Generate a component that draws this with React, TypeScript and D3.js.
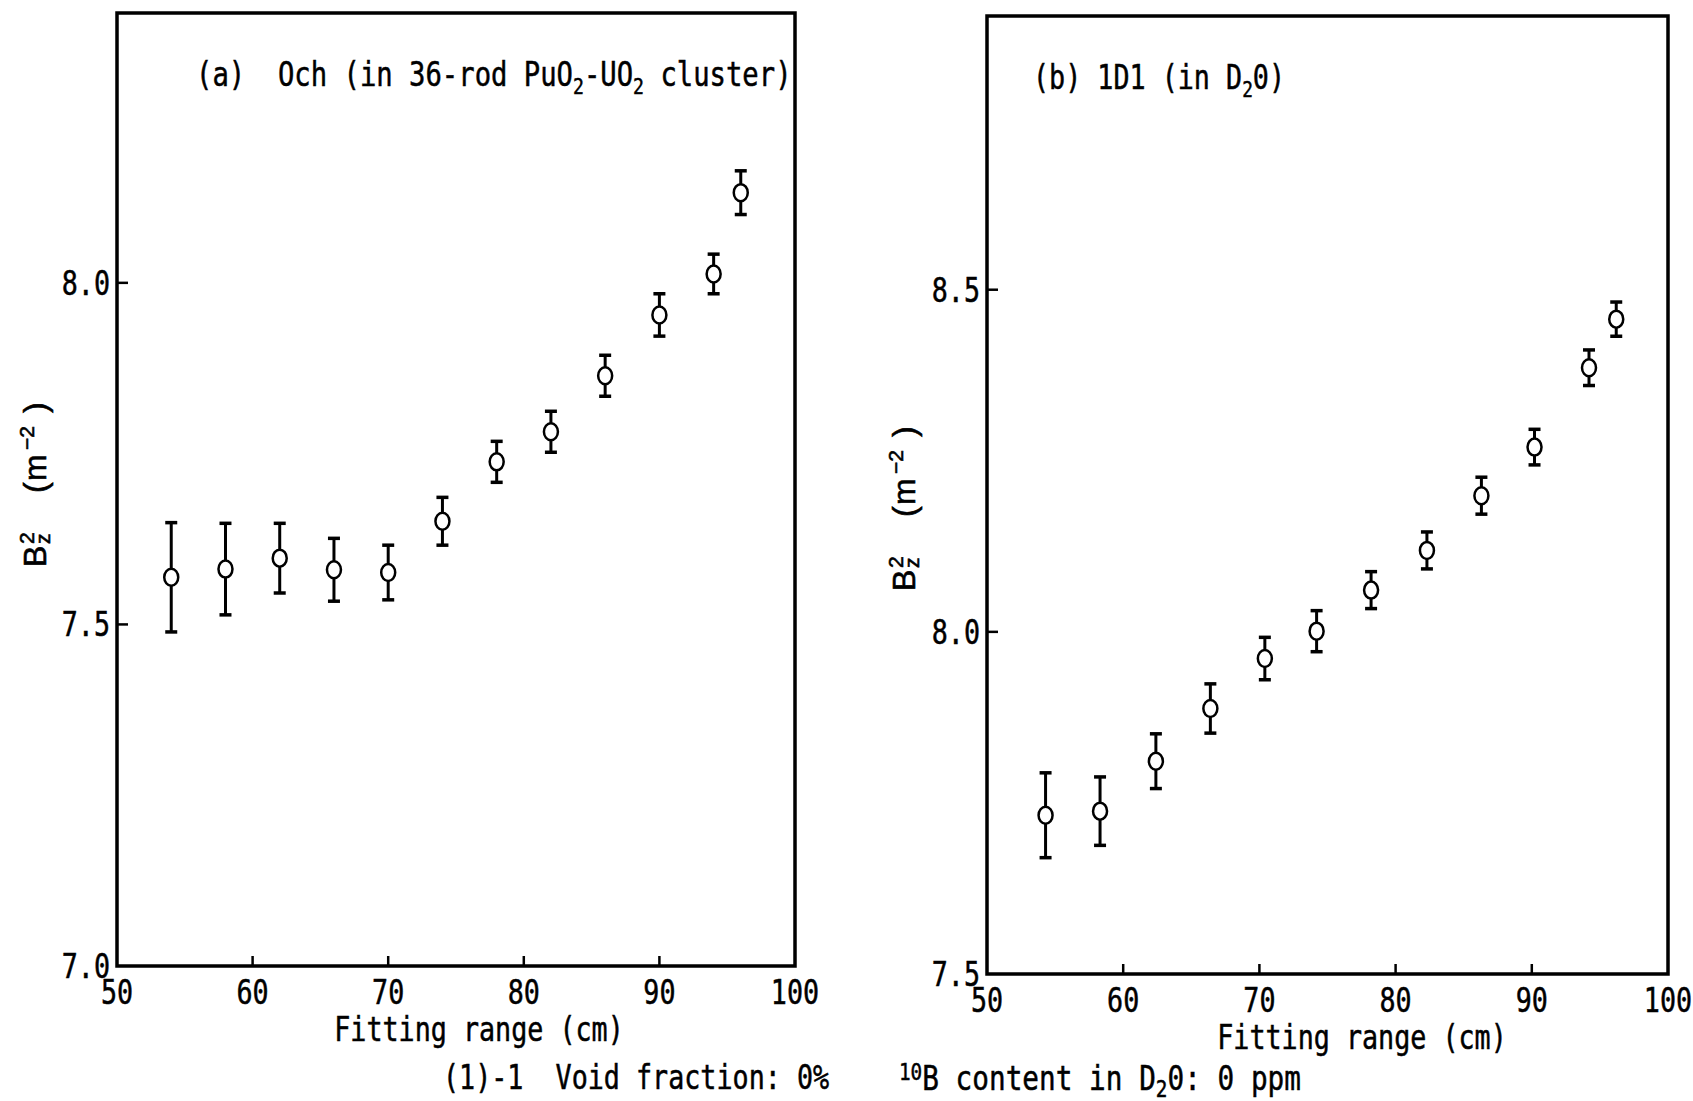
import React from 'react';
import * as d3 from 'd3';

// (a) 0ch in 36-rod PuO2-UO2 cluster
const fitRangeA = [54, 58, 62, 66, 70, 74, 78, 82, 86, 90, 94, 96];
const bz2A = [7.569, 7.581, 7.597, 7.58, 7.576, 7.651, 7.738, 7.782, 7.864, 7.953, 8.013, 8.132];
const errA = [0.08, 0.067, 0.051, 0.046, 0.04, 0.035, 0.03, 0.03, 0.03, 0.031, 0.029, 0.032];

// (b) 1D1 in D2O
const fitRangeB = [54.3, 58.3, 62.4, 66.4, 70.4, 74.2, 78.2, 82.3, 86.3, 90.2, 94.2, 96.2];
const bz2B = [7.732, 7.738, 7.811, 7.888, 7.961, 8.001, 8.061, 8.119, 8.199, 8.27, 8.386, 8.457];
const errB = [0.062, 0.05, 0.04, 0.036, 0.031, 0.03, 0.027, 0.027, 0.027, 0.026, 0.026, 0.025];

const xTicks = [50, 60, 70, 80, 90, 100];
const yTicksA = [7.0, 7.5, 8.0];
const yTicksB = [7.5, 8.0, 8.5];

const MONO = 'DejaVu Sans Mono';

const T = ({ x, y, anchor = 'start', size = 33, sx = 0.81, children }) => (
  <text
    transform={`translate(${x},${y}) scale(${sx},1)`}
    textAnchor={anchor}
    fontFamily={MONO}
    fontSize={size}
    fill="#000"
    stroke="#000"
    strokeWidth={0.5}
    style={{ whiteSpace: 'pre' }}
  >
    {children}
  </text>
);

// B_z^2 (m^-2), rotated; local x runs up the page
const YLabel = ({ cx, cy }) => (
  <g transform={`translate(${cx},${cy}) rotate(-90)`} fontFamily="Liberation Sans" fill="#000" stroke="#000" strokeWidth={0.6}>
    <text x={-84} y={10} fontSize={32}>B</text>
    <text x={-61} y={-2} fontSize={21}>2</text>
    <text x={-61} y={14} fontSize={21}>z</text>
    <text x={-10} y={10} fontSize={32}>(</text>
    <text x={2} y={10} fontSize={32}>m</text>
    <text x={33} y={-2} fontSize={21}>−2</text>
    <text x={70} y={10} fontSize={32}>)</text>
  </g>
);

const Panel = ({ left, right, top, bottom, yDomain, yTicks, xs, ys, errs, xLabelX, yLabelX, yLabelY }) => {
  const x = d3.scaleLinear().domain([50, 100]).range([left, right]);
  const y = d3.scaleLinear().domain(yDomain).range([bottom, top]);
  const inner = (v, arr) => v !== arr[0] && v !== arr[arr.length - 1];

  return (
    <g>
      <rect x={left} y={top} width={right - left} height={bottom - top} fill="none" stroke="#000" strokeWidth={3.5} />

      {xTicks.filter(v => inner(v, xTicks)).map(v => (
        <line key={'xt' + v} x1={x(v)} x2={x(v)} y1={bottom} y2={bottom - 10} stroke="#000" strokeWidth={2.5} />
      ))}
      {xTicks.map(v => (
        <T key={'xl' + v} x={x(v)} y={bottom + 38} anchor="middle">{String(v)}</T>
      ))}

      {yTicks.filter(v => v !== yTicks[0]).map(v => (
        <line key={'yt' + v} x1={left} x2={left + 11} y1={y(v)} y2={y(v)} stroke="#000" strokeWidth={2.5} />
      ))}
      {yTicks.map(v => (
        <T key={'yl' + v} x={left - 7} y={y(v) + 12} anchor="end">{v.toFixed(1)}</T>
      ))}

      {xs.map((xv, i) => {
        const cx = x(xv);
        const yTop = y(ys[i] + errs[i]);
        const yBot = y(ys[i] - errs[i]);
        const cy = y(ys[i]);
        return (
          <g key={'p' + i} stroke="#000">
            <line x1={cx} x2={cx} y1={yTop} y2={cy - 8} strokeWidth={3} />
            <line x1={cx} x2={cx} y1={cy + 8} y2={yBot} strokeWidth={3} />
            <line x1={cx - 6} x2={cx + 6} y1={yTop} y2={yTop} strokeWidth={3.5} />
            <line x1={cx - 6} x2={cx + 6} y1={yBot} y2={yBot} strokeWidth={3.5} />
            <ellipse cx={cx} cy={cy} rx={7} ry={8.5} fill="#fff" strokeWidth={2.5} />
          </g>
        );
      })}

      <T x={xLabelX} y={bottom + 75} anchor="middle">Fitting range (cm)</T>
      <YLabel cx={yLabelX} cy={yLabelY} />
    </g>
  );
};

export default function App() {
  return (
    <svg width={1693} height={1101} style={{ position: 'absolute', left: 0, top: 0, background: '#fff' }}>
      <rect width={1693} height={1101} fill="#fff" />

      <Panel
        left={117} right={795} top={13} bottom={966}
        yDomain={[7.0, 8.395]} yTicks={yTicksA}
        xs={fitRangeA} ys={bz2A} errs={errA}
        xLabelX={479} yLabelX={36} yLabelY={483}
      />
      <T x={196} y={86} sx={0.825}>
        {'(a)  Och (in 36-rod PuO'}
        <tspan fontSize={22} dy={8}>2</tspan>
        <tspan dy={-8}>{'-UO'}</tspan>
        <tspan fontSize={22} dy={8}>2</tspan>
        <tspan dy={-8}>{' cluster)'}</tspan>
      </T>

      <Panel
        left={987} right={1668} top={16} bottom={974}
        yDomain={[7.5, 8.9]} yTicks={yTicksB}
        xs={fitRangeB} ys={bz2B} errs={errB}
        xLabelX={1362} yLabelX={905} yLabelY={507}
      />
      <T x={1033} y={89}>
        {'(b) 1D1 (in D'}
        <tspan fontSize={22} dy={8}>2</tspan>
        <tspan dy={-8}>{'0)'}</tspan>
      </T>

      <T x={443} y={1089}>{'(1)-1  Void fraction: 0%'}</T>
      <T x={899} y={1090} sx={0.84}>
        <tspan fontSize={23} dy={-10}>10</tspan>
        <tspan dy={10}>{'B content in D'}</tspan>
        <tspan fontSize={23} dy={7}>2</tspan>
        <tspan dy={-7}>{'0: 0 ppm'}</tspan>
      </T>
    </svg>
  );
}
